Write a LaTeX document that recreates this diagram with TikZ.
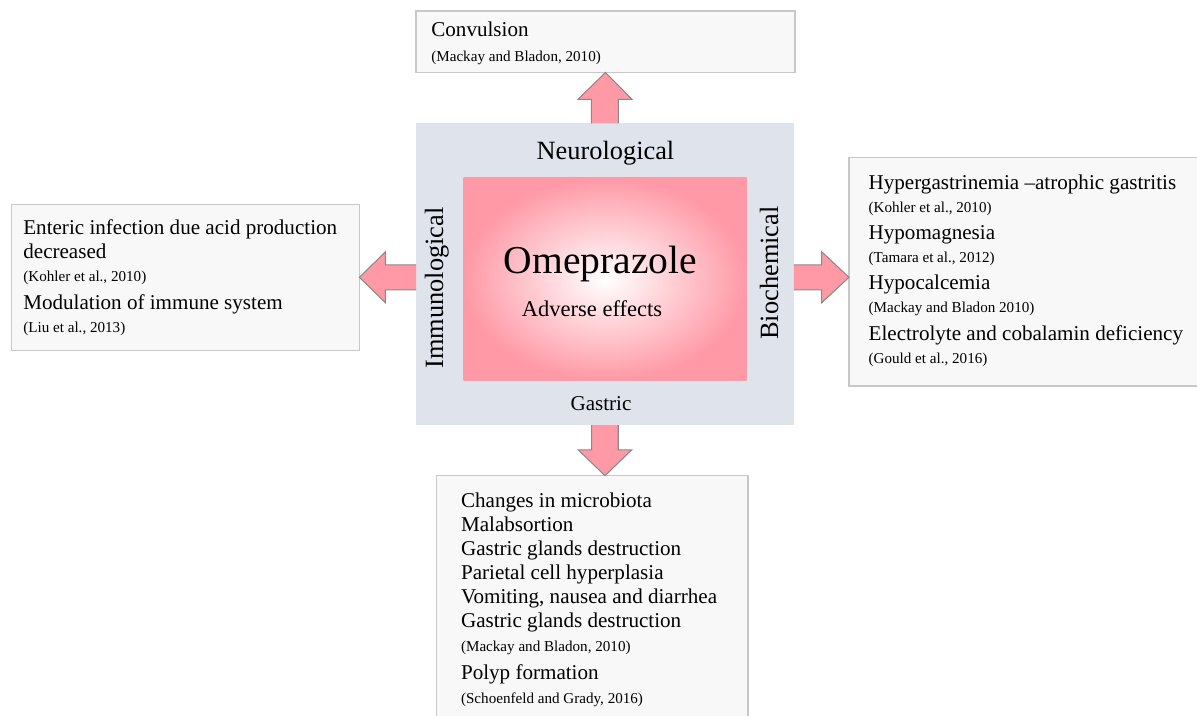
\documentclass[tikz,border=0pt]{standalone}
\usepackage{fontspec}
\setmainfont{Liberation Serif}
\usetikzlibrary{calc}
\definecolor{pinkfill}{HTML}{FF99A6}
\definecolor{coreblue}{HTML}{DFE3EC}
\definecolor{boxgray}{HTML}{F8F8F8}
\definecolor{boxline}{HTML}{C8C8C8}
\definecolor{arrowline}{HTML}{8A8A8A}

\begin{document}
\begin{tikzpicture}[x=0.02cm, y=-0.02cm,
  infobox/.style={draw=boxline, fill=boxgray, line width=0.7pt, anchor=north west, inner sep=0pt, outer sep=0pt},
  fatarrow/.style={fill=pinkfill, draw=arrowline, line width=0.6pt, line join=miter},
  itemtxt/.style={anchor=base west, inner sep=0pt, font=\fontsize{12}{14}\selectfont},
  citetxt/.style={anchor=base west, inner sep=0pt, font=\fontsize{8.6}{10}\selectfont},
  sidetxt/.style={anchor=base, inner sep=0pt, font=\fontsize{15}{18}\selectfont}
]
  \useasboundingbox (0,0) rectangle (1197,716);

  % === CENTRE: Omeprazole ===
  \node[fill=coreblue, anchor=north west, inner sep=0pt, outer sep=0pt,
        minimum width=7.56cm, minimum height=6.04cm] (core) at (416,123.3) {};
  \node[inner color=white, outer color=pinkfill, anchor=north west, inner sep=0pt, outer sep=0pt,
        minimum width=5.664cm, minimum height=4.066cm] (drug) at (463.5,177.7) {};
  \node[anchor=base, inner sep=0pt, font=\fontsize{22.5}{26}\selectfont] (drugname) at (600.5,273.3) {Omeprazole};
  \node[anchor=base, inner sep=0pt, font=\fontsize{12.8}{15}\selectfont] (drugsub) at (592,316.7) {Adverse effects};

  % Side labels
  \node[sidetxt] (neuro) at (605.5,159.3) {Neurological};
  \node[anchor=base, inner sep=0pt, font=\fontsize{12}{14}\selectfont] (gastro) at (601,410) {Gastric};
  \node[sidetxt, rotate=90] (immuno) at (443,288) {Immunological};
  \node[sidetxt, rotate=90] (biochem) at (778,273) {Biochemical};

  % === TOP: Neurological effects ===
  \node[infobox, minimum width=7.58cm, minimum height=1.23cm] (conv) at (416,11) {};
  \node[itemtxt] (conv-t1) at (431,37) {Convulsion};
  \node[citetxt] (conv-c1) at (431,61.5) {(Mackay and Bladon, 2010)};

  % === LEFT: Immunological effects ===
  \node[infobox, minimum width=6.96cm, minimum height=2.92cm] (immunobox) at (11.5,204.3) {};
  \node[itemtxt] (imm-t1) at (23,235) {Enteric infection due acid production};
  \node[itemtxt] (imm-t2) at (23,258.5) {decreased};
  \node[citetxt] (imm-c1) at (23,282) {(Kohler et al., 2010)};
  \node[itemtxt] (imm-t3) at (23,310) {Modulation of immune system};
  \node[citetxt] (imm-c2) at (23,332.5) {(Liu et al., 2013)};

  % === RIGHT: Biochemical effects ===
  \node[infobox, minimum width=7.1cm, minimum height=4.574cm] (biobox) at (849,157.3) {};
  \node[itemtxt] (bio-t1) at (868.3,190) {Hypergastrinemia –atrophic gastritis};
  \node[citetxt] (bio-c1) at (868.3,213) {(Kohler et al., 2010)};
  \node[itemtxt] (bio-t2) at (868.3,240) {Hypomagnesia};
  \node[citetxt] (bio-c2) at (868.3,263) {(Tamara et al., 2012)};
  \node[itemtxt] (bio-t3) at (868.3,290) {Hypocalcemia};
  \node[citetxt] (bio-c3) at (868.3,313) {(Mackay and Bladon 2010)};
  \node[itemtxt] (bio-t4) at (868.3,340) {Electrolyte and cobalamin deficiency};
  \node[citetxt] (bio-c4) at (868.3,363) {(Gould et al., 2016)};

  % === BOTTOM: Gastric effects ===
  \node[infobox, minimum width=6.23cm, minimum height=5cm] (gastrobox) at (436.5,475.7) {};
  \node[itemtxt] (gas-t1) at (460.7,507.5) {Changes in microbiota};
  \node[itemtxt] (gas-t2) at (460.7,531.5) {Malabsortion};
  \node[itemtxt] (gas-t3) at (460.7,555.5) {Gastric glands destruction};
  \node[itemtxt] (gas-t4) at (460.7,579.5) {Parietal cell hyperplasia};
  \node[itemtxt] (gas-t5) at (460.7,603.5) {Vomiting, nausea and diarrhea};
  \node[itemtxt] (gas-t6) at (460.7,627.5) {Gastric glands destruction};
  \node[citetxt] (gas-c1) at (460.7,651) {(Mackay and Bladon, 2010)};
  \node[itemtxt] (gas-t7) at (460.7,679) {Polyp formation};
  \node[citetxt] (gas-c2) at (460.7,703) {(Schoenfeld and Grady, 2016)};

  % === Block arrows ===
  % up
  \draw[fatarrow] ($(core.north)+(-13.5,0)$) -- ++(0,-24) -- ++(-13.5,0) -- (conv.south)
    -- ($(core.north)+(27,-24)$) -- ++(-13.5,0) -- ($(core.north)+(13.5,0)$);
  % left
  \draw[fatarrow] ($(core.west|-immunobox.east)+(0,-12.5)$) -- ($(immunobox.east)+(26,-12.5)$)
    -- ++(0,-13) -- (immunobox.east) -- ($(immunobox.east)+(26,25.5)$) -- ++(0,-13)
    -- ($(core.west|-immunobox.east)+(0,12.5)$);
  % right
  \draw[fatarrow] ($(core.east|-immunobox.east)+(0,-12.5)$) -- ($(biobox.west|-immunobox.east)+(-27.3,-12.5)$)
    -- ++(0,-13) -- (biobox.west|-immunobox.east) -- ($(biobox.west|-immunobox.east)+(-27.3,25.5)$)
    -- ++(0,-13) -- ($(core.east|-immunobox.east)+(0,12.5)$);
  % down
  \draw[fatarrow] ($(core.south)+(-13.3,0)$) -- ++(0,24.7) -- ++(-13.4,0) -- (core.south|-gastrobox.north)
    -- ($(core.south)+(26.7,24.7)$) -- ++(-13.4,0) -- ($(core.south)+(13.3,0)$);
\end{tikzpicture}
\end{document}
